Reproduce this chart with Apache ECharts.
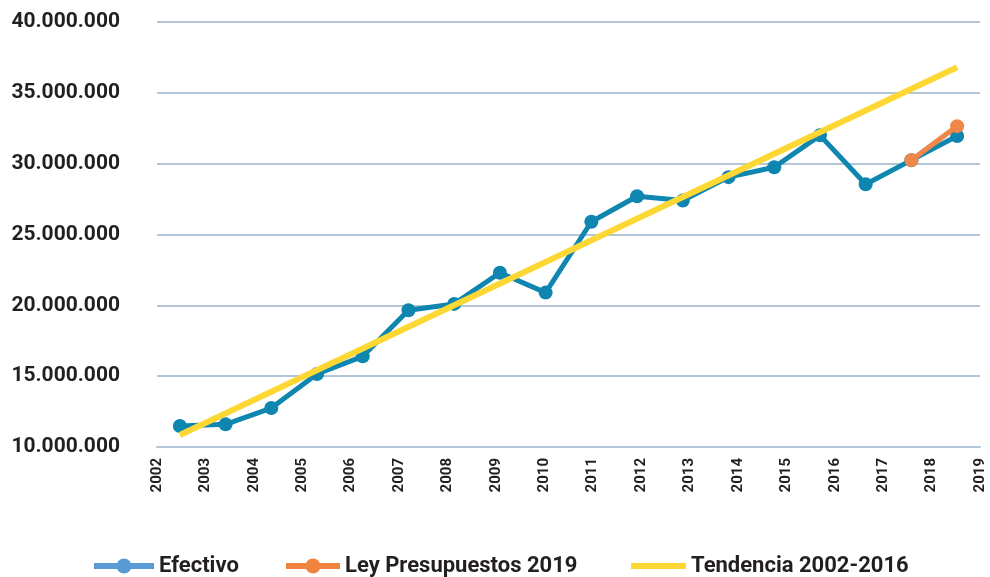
<!DOCTYPE html>
<html>
<head>
<meta charset="utf-8">
<script src="https://cdn.jsdelivr.net/npm/echarts@6/dist/echarts.min.js"></script>
<style>
  html, body { margin: 0; padding: 0; background: #fff; }
  #chart { width: 990px; height: 577px; }
</style>
</head>
<body>
<div id="chart"></div>
<script>
// años (categorías)
var years = ['2002', '2003', '2004', '2005', '2006', '2007', '2008', '2009', '2010',
             '2011', '2012', '2013', '2014', '2015', '2016', '2017', '2018', '2019'];
// gasto efectivo
var efectivo = [11480000, 11600000, 12750000, 15150000, 16400000, 19650000, 20100000, 22300000, 20900000,
                25900000, 27700000, 27400000, 29050000, 29750000, 32000000, 28550000, 30250000, 31950000];
// ley de presupuestos 2019
var ley = [['2018', 30250000], ['2019', 32650000]];
// tendencia 2002-2016 (extremos)
var tendencia = [['2002', 10850000], ['2019', 36800000]];

var font = 'Roboto, "DejaVu Sans", sans-serif';
var textColor = '#231f20';

function fmt(v) {
    return String(v).replace(/\B(?=(\d{3})+(?!\d))/g, '.');
}

var chart = echarts.init(document.getElementById('chart'));

function legendItem(left, width, item) {
    return {
        left: left,
        top: 555,
        itemWidth: width,
        itemHeight: 19,
        padding: 0,
        textStyle: { fontFamily: font, fontWeight: 'bold', fontSize: 22, color: textColor },
        data: [item]
    };
}

var option = {
    animation: false,
    grid: { left: 157, right: 10, top: 22, bottom: 130 },
    legend: [
        legendItem(91, 60, { name: 'Efectivo', itemStyle: { color: '#5b9bd5' }, lineStyle: { color: '#5b9bd5', width: 6 } }),
        legendItem(283, 54, { name: 'Ley Presupuestos 2019', itemStyle: { color: '#f0843f' }, lineStyle: { color: '#f0843f', width: 6 } }),
        legendItem(628, 55, { name: 'Tendencia 2002-2016', itemStyle: { opacity: 0 }, lineStyle: { color: '#fdd835', width: 6 } })
    ],
    xAxis: [
        {
            type: 'category',
            data: years,
            boundaryGap: false,
            axisLine: { lineStyle: { color: '#b3c6d8', width: 2 } },
            axisTick: { show: false },
            axisLabel: {
                interval: 0,
                rotate: 90,
                margin: 11,
                fontFamily: font,
                fontWeight: 'bold',
                fontSize: 15,
                color: textColor
            },
            splitLine: { show: false }
        },
        {
            type: 'category',
            data: years,
            boundaryGap: true,
            show: false
        }
    ],
    yAxis: {
        type: 'value',
        min: 10000000,
        max: 40000000,
        interval: 5000000,
        axisLine: { show: false },
        axisTick: { show: false },
        axisLabel: {
            margin: 37,
            fontFamily: font,
            fontWeight: 'bold',
            fontSize: 21,
            color: textColor,
            formatter: fmt
        },
        splitLine: { lineStyle: { color: '#b3c6d8', width: 2 } }
    },
    series: [
        {
            name: 'Efectivo',
            type: 'line',
            xAxisIndex: 1,
            data: efectivo,
            symbol: 'circle',
            symbolSize: 14,
            color: '#0e86b0',
            lineStyle: { width: 5, color: '#0e86b0' },
            z: 2
        },
        {
            name: 'Ley Presupuestos 2019',
            type: 'line',
            xAxisIndex: 1,
            data: ley,
            symbol: 'circle',
            symbolSize: 14,
            color: '#f0874a',
            lineStyle: { width: 5, color: '#f0874a' },
            z: 3
        },
        {
            name: 'Tendencia 2002-2016',
            type: 'line',
            xAxisIndex: 1,
            data: tendencia,
            symbol: 'none',
            color: '#fdd835',
            lineStyle: { width: 6, color: '#fdd835' },
            z: 4
        }
    ]
};

chart.setOption(option);
</script>
</body>
</html>
